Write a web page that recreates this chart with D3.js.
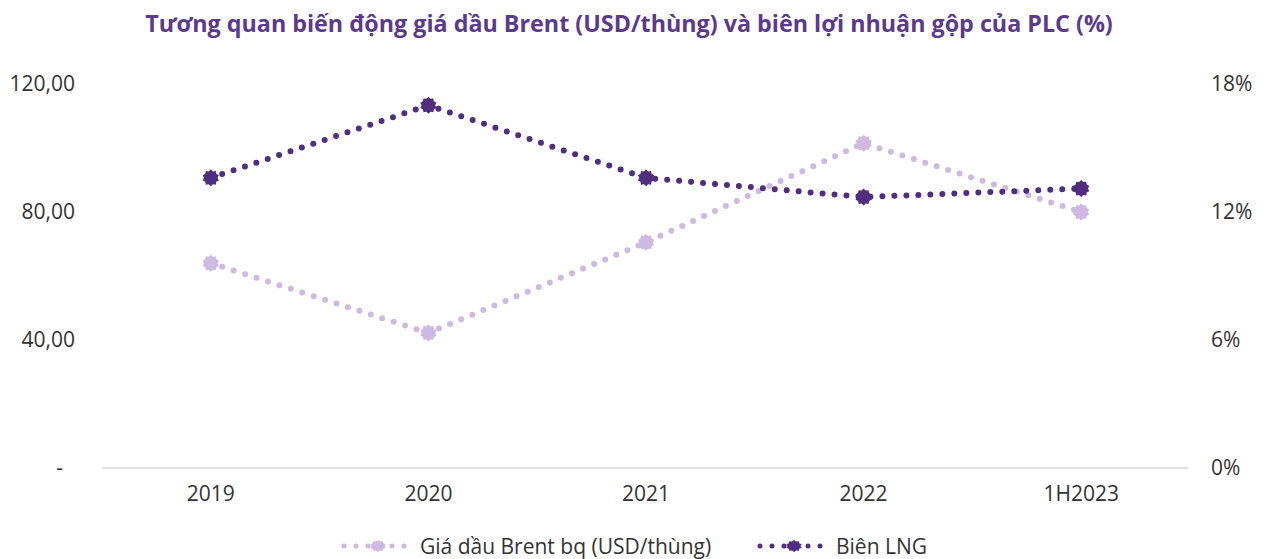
<!DOCTYPE html>
<html><head><meta charset="utf-8">
<script src="https://cdn.jsdelivr.net/npm/d3@7"></script>
<style>
body{margin:0;background:#fff;}
text{font-family:"Open Sans",sans-serif;}
</style></head>
<body><svg id="c" width="1271" height="559"></svg>
<script>
const categories = ["2019","2020","2021","2022","1H2023"];
const brentValues = [64, 42.2, 70.5, 101.5, 80];
const lngValues = [13.6, 17.0, 13.6, 12.7, 13.1];
const leftTicks = [0, 40, 80, 120];
const leftTickLabels = ["-", "40,00", "80,00", "120,00"];
const rightTicks = [0, 6, 12, 18];
const seriesNames = ["Giá dầu Brent bq (USD/thùng)", "Biên LNG"];
const title = "Tương quan biến động giá dầu Brent (USD/thùng) và biên lợi nhuận gộp của PLC (%)";

const svg = d3.select("#c");
const L = 102, R = 1190, T = 84, B = 468;
const x = d3.scaleBand().domain(categories).range([L, R]);
const yL = d3.scaleLinear().domain([0, 120]).range([B, T]);
const yR = d3.scaleLinear().domain([0, 18]).range([B, T]);
const light = "#cdb9e1", dark = "#4f2d7f";
const FS = 21;

function fitText(sel, target) {
  const w = sel.node().getComputedTextLength();
  const fs = parseFloat(sel.attr("font-size"));
  sel.attr("font-size", fs * target / w);
}

const tt = svg.append("text").attr("x", 629).attr("y", 32).attr("text-anchor", "middle")
  .attr("font-size", 20).attr("font-weight", 700).attr("fill", "#5b3a8e").text(title);
fitText(tt, 968);

// baseline
svg.append("line").attr("x1", L).attr("x2", R - 2).attr("y1", B).attr("y2", B)
  .attr("stroke", "#d9d9d9").attr("stroke-width", 1.5);

function styleAxis(g) {
  g.select(".domain").remove();
  g.selectAll("text").attr("font-size", FS).attr("fill", "#333").attr("font-family", "'Open Sans',sans-serif");
}
// left axis
svg.append("g").attr("transform", `translate(${L},0)`)
  .call(d3.axisLeft(yL).tickValues(leftTicks).tickSize(0).tickPadding(27)
    .tickFormat((d, i) => leftTickLabels[i])).call(styleAxis)
  .selectAll(".tick text").filter(d => d === 0).attr("dx", -12);
// right axis
svg.append("g").attr("transform", `translate(${R},0)`)
  .call(d3.axisRight(yR).tickValues(rightTicks).tickSize(0).tickPadding(21)
    .tickFormat(d => d + "%")).call(styleAxis);
// x axis
svg.append("g").attr("transform", `translate(0,${B})`)
  .call(d3.axisBottom(x).tickSize(0).tickPadding(18)).call(styleAxis);

const cx = d => x(d) + x.bandwidth() / 2;
function gear(g, color, r, sx) {
  const pts = [];
  const n = 10;
  for (let k = 0; k < n * 2; k++) {
    const a = Math.PI * k / n;
    const rr = k % 2 === 0 ? r : r * 0.8;
    pts.push([Math.sin(a) * rr * (sx || 1), -Math.cos(a) * rr]);
  }
  g.append("path").attr("d", d3.line().curve(d3.curveLinearClosed)(pts)).attr("fill", color);
}

function drawSeries(vals, scale, color) {
  const line = d3.line().x((d, i) => cx(categories[i])).y(d => scale(d));
  svg.append("path").datum(vals).attr("d", line).attr("fill", "none")
    .attr("stroke", color).attr("stroke-width", 6).attr("stroke-linecap", "round")
    .attr("stroke-dasharray", "0 12");
  vals.forEach((v, i) => {
    const g = svg.append("g").attr("transform", `translate(${cx(categories[i])},${scale(v)})`);
    gear(g, color, 8.5);
  });
}
drawSeries(brentValues, yL, light);
drawSeries(lngValues, yR, dark);

// legend
function legendItem(x0, color, label) {
  const y0 = 546;
  svg.append("line").attr("x1", x0 + 2).attr("x2", x0 + 68).attr("y1", y0).attr("y2", y0)
    .attr("stroke", color).attr("stroke-width", 5).attr("stroke-linecap", "round")
    .attr("stroke-dasharray", "0 12");
  const g = svg.append("g").attr("transform", `translate(${x0 + 36},${y0})`);
  gear(g, color, 6, 1.35);
  svg.append("text").attr("x", x0 + 78).attr("y", y0 + 8).attr("font-size", FS)
    .attr("fill", "#333").text(label);
}
legendItem(342, light, seriesNames[0]);
legendItem(758, dark, seriesNames[1]);
</script></body></html>
